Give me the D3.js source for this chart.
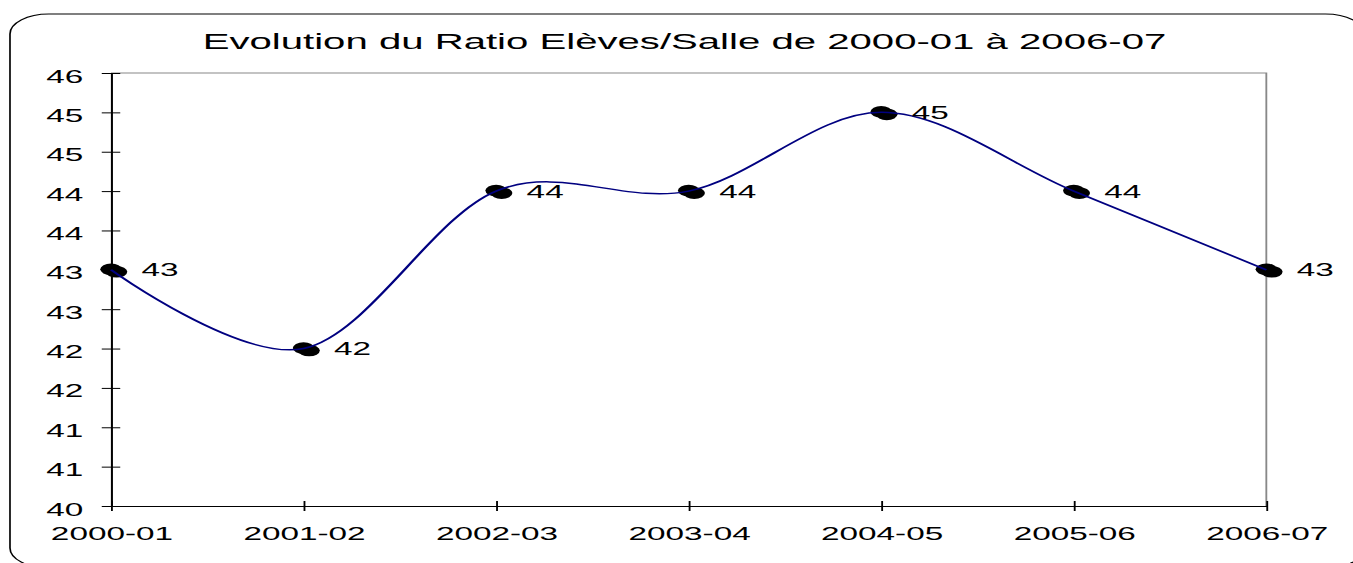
<!DOCTYPE html>
<html>
<head>
<meta charset="utf-8">
<script src="https://cdn.jsdelivr.net/npm/d3@7/dist/d3.min.js"></script>
<style>
  body { margin: 0; background: #fff; }
  svg { display: block; }
  text { font-family: "Liberation Sans", Arial, sans-serif; fill: #000; }
</style>
</head>
<body>
<div id="chart"></div>
<script>
// data
var categories = ["2000-01", "2001-02", "2002-03", "2003-04", "2004-05", "2005-06", "2006-07"];
var ratios = [43, 42, 44, 44, 45, 44, 43];
var pointLabels = ["43", "42", "44", "44", "45", "44", "43"];
var yTickValues = [40, 40.5, 41, 41.5, 42, 42.5, 43, 43.5, 44, 44.5, 45, 45.5];
var yTickLabels = ["40", "41", "41", "42", "42", "43", "43", "44", "44", "45", "45", "46"];
var chartTitle = "Evolution du Ratio Elèves/Salle de 2000-01 à 2006-07";

// the picture is stretched sideways (~1.85x), so draw in a narrow viewBox and let it stretch
var stretch = 1.85,
    W = 1353, H = 563,
    vw = W / stretch;

var margin = {top: 73, right: vw - 684.5, bottom: H - 506, left: 60},
    width = vw - margin.left - margin.right,
    height = H - margin.top - margin.bottom;

var svg = d3.select("#chart")
  .append("svg")
    .attr("width", W)
    .attr("height", H)
    .attr("viewBox", "0 0 " + vw + " " + H)
    .attr("preserveAspectRatio", "none");

// outer rounded frame
svg.append("rect")
  .attr("x", 5.4)
  .attr("y", 14)
  .attr("width", 732)
  .attr("height", 554)
  .attr("rx", 21)
  .attr("ry", 20)
  .style("fill", "none")
  .style("stroke", "#000")
  .style("stroke-width", 0.9);

// title
svg.append("text")
  .attr("x", 370)
  .attr("y", 49)
  .attr("text-anchor", "middle")
  .style("font-size", "21.7px")
  .text(chartTitle);

var g = svg.append("g")
  .attr("transform", "translate(" + margin.left + "," + margin.top + ")");

var x = d3.scalePoint()
  .domain(categories)
  .range([0, width]);

var y = d3.scaleLinear()
  .domain([40, 45.5])
  .range([height, 0]);

// plot area border (top and right in gray)
g.append("path")
  .attr("d", "M0,0H" + width + "V" + height)
  .style("fill", "none")
  .style("stroke", "#888")
  .style("stroke-width", 1);

// Y axis
var yAxis = g.append("g")
  .call(d3.axisLeft(y)
    .tickValues(yTickValues)
    .tickFormat(function(d, i) { return yTickLabels[i]; })
    .tickSizeInner(5)
    .tickSizeOuter(0)
    .tickPadding(10));
yAxis.select(".domain").style("stroke", "#000").style("stroke-width", 1.1);
yAxis.selectAll(".tick line").attr("x1", 5);
yAxis.selectAll(".tick text")
  .attr("dy", "0.5em")
  .style("font-size", "18px")
  .style("font-family", null);

// X axis
var xAxis = g.append("g")
  .attr("transform", "translate(0," + height + ")")
  .call(d3.axisBottom(x).tickSizeInner(5).tickSizeOuter(0));
xAxis.select(".domain").style("stroke", "#000").style("stroke-width", 1.1);
xAxis.selectAll(".tick line").attr("y1", -5);
xAxis.selectAll(".tick text")
  .attr("y", 34)
  .attr("dy", 0)
  .style("font-size", "18px")
  .style("font-family", null);

// markers (two overlapping dots each)
var marks = g.append("g")
  .selectAll("g")
  .data(ratios)
  .enter()
  .append("g");
marks.append("circle")
  .attr("cx", function(d, i) { return x(categories[i]); })
  .attr("cy", function(d) { return y(d) - 0.5; })
  .attr("r", 5.8)
  .style("fill", "#000");
marks.append("circle")
  .attr("cx", function(d, i) { return x(categories[i]) + 3; })
  .attr("cy", function(d) { return y(d) + 2; })
  .attr("r", 5.8)
  .style("fill", "#000");

// smoothed line
var line = d3.line()
  .x(function(d, i) { return x(categories[i]); })
  .y(function(d) { return y(d); })
  .curve(d3.curveCardinal.tension(0));

g.append("path")
  .datum(ratios)
  .attr("d", line)
  .style("fill", "none")
  .style("stroke", "#000080")
  .style("stroke-width", 1.5);

// value labels
g.append("g")
  .selectAll("text")
  .data(ratios)
  .enter()
  .append("text")
    .attr("x", function(d, i) { return x(categories[i]) + 16.5; })
    .attr("y", function(d) { return y(d) + 6.5; })
    .style("font-size", "18px")
    .text(function(d, i) { return pointLabels[i]; });
</script>
</body>
</html>
